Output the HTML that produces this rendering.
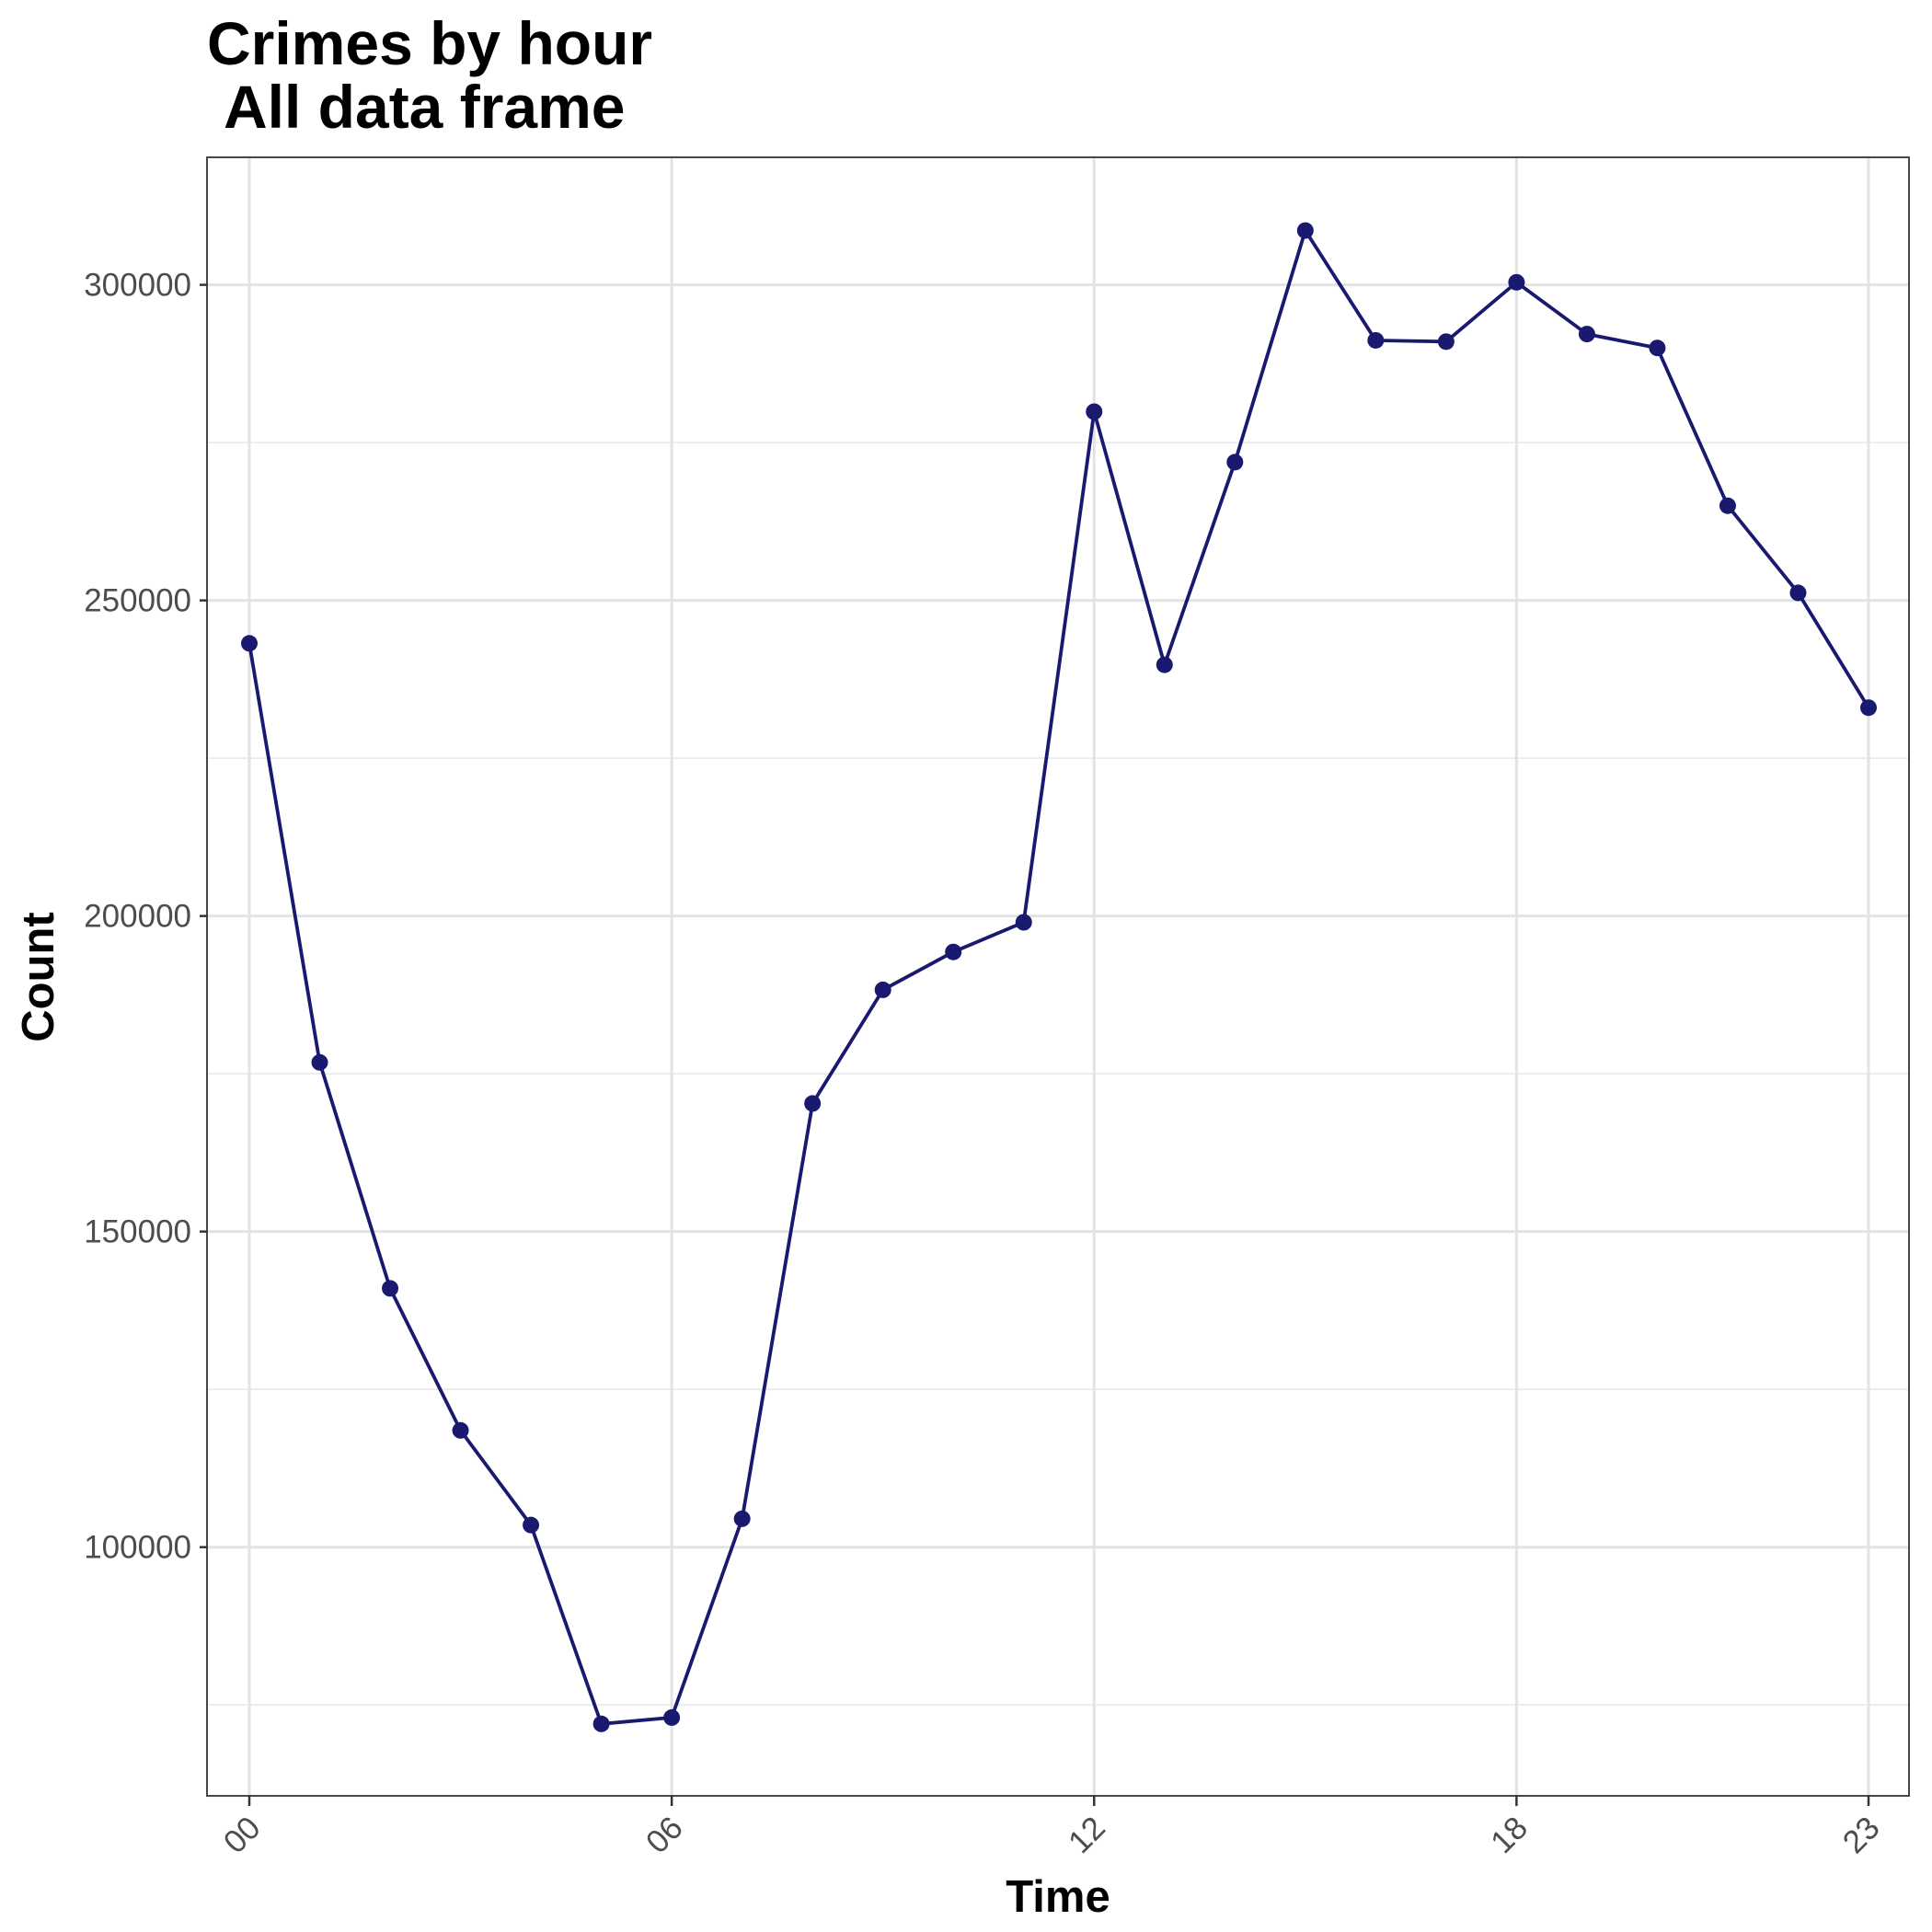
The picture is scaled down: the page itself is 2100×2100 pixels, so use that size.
<!DOCTYPE html>
<html><head><meta charset="utf-8"><style>html,body{margin:0;padding:0;background:#fff}svg{display:block}</style></head>
<body>
<svg id="chart" width="2100" height="2100" xmlns="http://www.w3.org/2000/svg" font-family="Liberation Sans, Arial, sans-serif">
<rect width="2100" height="2100" fill="#fff"/>
<text x="225" y="70" font-size="66" font-weight="bold" fill="#000">Crimes by hour</text>
<text x="243" y="139" font-size="66" font-weight="bold" fill="#000">All data frame</text>
<g id="grid"></g>
<g id="axes"></g>
<g id="series"></g>
<rect x="225" y="171" width="1850" height="1781" fill="none" stroke="#333" stroke-width="1.8"/>
<text x="1150" y="2078" font-size="49" font-weight="bold" text-anchor="middle" fill="#000">Time</text>
<text x="58" y="1062" font-size="49" font-weight="bold" text-anchor="middle" fill="#000" transform="rotate(-90 58 1062)">Count</text>
</svg>
<script>
const hours = ["00","01","02","03","04","05","06","07","08","09","10","11","12","13","14","15","16","17","18","19","20","21","22","23"];
const counts = [243200,176800,141000,118500,103500,72000,73000,104500,170300,188300,194300,199000,279900,239800,271900,308600,291200,291000,300400,292200,290000,265000,251200,233000];
const xTickLabels = ["00","06","12","18","23"];
const yTicks = [100000,150000,200000,250000,300000];
const yMinorTicks = [75000,125000,175000,225000,275000];

const NS = "http://www.w3.org/2000/svg";
const pLeft = 225, pRight = 2075, pTop = 171, pBottom = 1952;
const yMin = 60600, yMax = 320200;
function xScale(i){ return 271 + i * (2031 - 271) / (hours.length - 1); }
function yScale(v){ return pBottom - (v - yMin) / (yMax - yMin) * (pBottom - pTop); }
function mk(tag, attrs, parent){ const e = document.createElementNS(NS, tag); for (const k in attrs) e.setAttribute(k, attrs[k]); parent.appendChild(e); return e; }

const gridG = document.getElementById('grid');
const axesG = document.getElementById('axes');
const seriesG = document.getElementById('series');

yMinorTicks.forEach(v => {
  const l = mk('line', {x1:pLeft, x2:pRight, y1:yScale(v), y2:yScale(v), stroke:'#ebebeb', 'stroke-width':1.8}, gridG);
  
  
});
yTicks.forEach(v => {
  const y = yScale(v);
  const l = mk('line', {x1:pLeft, x2:pRight, y1:y, y2:y, stroke:'#e3e3e3', 'stroke-width':3}, gridG);
  
  
  const t = mk('line', {x1:217, x2:pLeft, y1:y, y2:y, stroke:'#333', 'stroke-width':2.5}, axesG);
  
  
  const tx = mk('text', {x:208, y:y+12, 'font-size':35, fill:'#4d4d4d', 'text-anchor':'end'}, axesG);
  tx.textContent = String(v);
  
  
});
xTickLabels.forEach(lab => {
  const x = xScale(hours.indexOf(lab));
  const l = mk('line', {x1:x, x2:x, y1:pTop, y2:pBottom, stroke:'#e3e3e3', 'stroke-width':3}, gridG);
  
  
  const t = mk('line', {x1:x, x2:x, y1:pBottom, y2:pBottom+11, stroke:'#333', 'stroke-width':2.5}, axesG);
  
  
  const tx = mk('text', {x:x+14, y:1989, 'font-size':35, fill:'#4d4d4d', 'text-anchor':'end', transform:`rotate(-45 ${x+14} 1989)`}, axesG);
  tx.textContent = lab;
  
  
});

const pts = counts.map((v,i) => xScale(i).toFixed(1) + ',' + yScale(v).toFixed(1)).join(' ');
const line = mk('polyline', {points:pts, fill:'none', stroke:'#191970', 'stroke-width':3.8, 'stroke-linejoin':'round'}, seriesG);


counts.forEach((v,i) => {
  const c = mk('circle', {cx:xScale(i), cy:yScale(v), r:9, fill:'#191970'}, seriesG);
  
  
});
</script>
</body></html>
